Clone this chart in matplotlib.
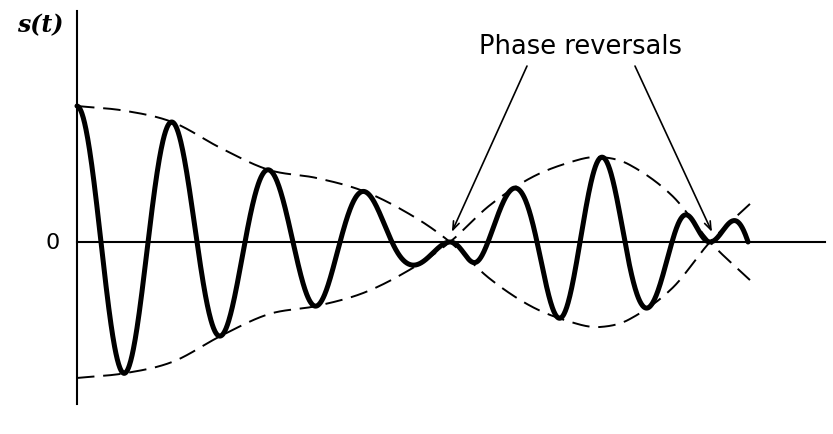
import numpy as np
import matplotlib
matplotlib.use("Agg")
import matplotlib.pyplot as plt

# envelope m(t) of the DSB-SC wave (time in carrier periods, amplitude rel. to m(0))
env_t = [0.0, 0.5, 1.0, 1.5, 2.0, 2.5, 3.0, 3.5, 3.885,
         4.3, 4.75, 5.2, 5.45, 5.75, 6.2, 6.594, 7.01]
env_m = [1.0, 0.965, 0.88, 0.69, 0.53, 0.47, 0.37, 0.19, 0.0,
         -0.27, -0.48, -0.60, -0.625, -0.57, -0.34, 0.0, 0.28]

# zero crossings of the carrier c(t)
carrier_zeros = [0.25, 0.740, 1.25, 1.75, 2.25, 2.740, 3.281, 3.885, 4.281,
                 4.792, 5.240, 5.708, 6.198, 6.594, 6.990]

reversals = [3.885, 6.594]


def hermite(xk, yk, x):
    # cubic hermite through the knots, slopes from neighbouring points
    xk = np.asarray(xk, float)
    yk = np.asarray(yk, float)
    d = np.empty_like(yk)
    d[1:-1] = (yk[2:] - yk[:-2]) / (xk[2:] - xk[:-2])
    d[0] = (yk[1] - yk[0]) / (xk[1] - xk[0])
    d[-1] = (yk[-1] - yk[-2]) / (xk[-1] - xk[-2])
    i = np.clip(np.searchsorted(xk, x) - 1, 0, len(xk) - 2)
    h = xk[i + 1] - xk[i]
    s = (x - xk[i]) / h
    h00 = 2 * s**3 - 3 * s**2 + 1
    h10 = s**3 - 2 * s**2 + s
    h01 = -2 * s**3 + 3 * s**2
    h11 = s**3 - s**2
    return h00 * yk[i] + h10 * h * d[i] + h01 * yk[i + 1] + h11 * h * d[i + 1]


ph_t = [0.0] + carrier_zeros
ph_v = [0.0] + [(2 * k + 1) * np.pi / 2 for k in range(len(carrier_zeros))]

t_env = np.linspace(env_t[0], env_t[-1], 1500)
m_env = hermite(env_t, env_m, t_env)

t_sig = np.linspace(0, carrier_zeros[-1], 1500)
s_sig = hermite(env_t, env_m, t_sig) * np.cos(hermite(ph_t, ph_v, t_sig))

fig = plt.figure(figsize=(8.33, 4.35), dpi=100)
ax = fig.add_axes([0, 0, 1, 1])
ax.set_xlim(-0.802, 7.875)
ax.set_ylim(-1.412, 1.787)

for sp in ["top", "right"]:
    ax.spines[sp].set_visible(False)
ax.spines["left"].set_position(("data", 0))
ax.spines["bottom"].set_position(("data", 0))
ax.spines["left"].set_bounds(-1.19, 1.70)
ax.spines["bottom"].set_bounds(0, 7.79)
ax.spines["left"].set_linewidth(1.5)
ax.spines["bottom"].set_linewidth(1.5)
ax.set_xticks([])
ax.set_yticks([])
ax.patch.set_visible(False)

ax.plot(t_env, m_env, color="black", lw=1.4, dashes=(9, 4.5))
ax.plot(t_env, -m_env, color="black", lw=1.4, dashes=(9, 4.5))
ax.plot(t_sig, s_sig, color="black", lw=3.6, solid_capstyle="round")

ax.text(-0.385, 1.603, "s(t)", family="DejaVu Serif", fontweight="bold",
        fontstyle="italic", fontsize=17, ha="center", va="center")
ax.text(-0.25, 0.0, "0", fontsize=16, ha="center", va="center")

ax.text(5.25, 1.44, "Phase reversals", fontsize=18.5, ha="center", va="center")
starts = [(4.6875, 1.294), (5.8125, 1.294)]
for (x0, y0), tr in zip(starts, reversals):
    ax.annotate("", xy=(tr + 0.02, 0.074), xytext=(x0, y0),
                arrowprops=dict(arrowstyle="->,head_length=0.6,head_width=0.22",
                                lw=1.2, color="black", shrinkA=0, shrinkB=0))

fig.savefig("out.png", dpi=100)
